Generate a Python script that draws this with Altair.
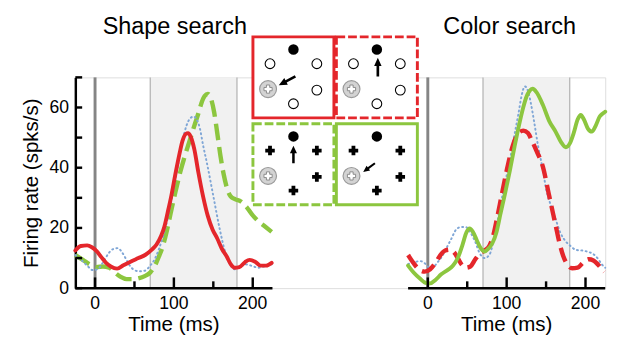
import math
import altair as alt
import pandas as pd

FONT = "Liberation Sans"
RED = "#e4262b"
GREEN = "#8cc63f"
BLUE = "#7fa6d6"
SHADE = "#f1f1f1"

# ---------------- axes / layout values ----------------
TIME_DOMAIN = [-25, 225]
RATE_DOMAIN = [0, 70]
shade_window = [70, 180]
onset = [0]
x_major = [0, 100, 200]
x_minor = [50, 150]
y_tick_values = [0, 10, 20, 30, 40, 50, 60, 70]
y_label_values = [0, 20, 40, 60]
panel_titles = ["Shape search", "Color search"]
x_title = "Time (ms)"
y_title = "Firing rate (spks/s)"

# ---------------- Shape search ----------------
shape_red_t = [-25, -18, -10, -4, 2, 8, 14, 20, 28, 36, 45, 55, 64, 72, 78, 84, 88, 92, 97, 102,
               107, 111, 115, 118, 121, 126, 131, 137, 143, 149, 155, 161, 167, 172, 177, 183, 190, 196, 203, 210,
               217, 224]
shape_red_v = [12.5, 14, 14.2, 13.6, 12.3, 10.3, 8.4, 7.2, 6.5, 7.6, 8.8, 10, 11.1, 12.8, 14.5, 17.5, 20.5, 25, 31, 38,
               44.5, 49, 51.2, 51.5, 50.5, 46, 38.5, 30.5, 24, 19.5, 16.5, 13, 10.5, 8, 6.8, 7, 8.6, 9.4, 8.8, 7.5,
               7.5, 8.4]

shape_green_t = [-25, -15, -6, 2, 10, 18, 25, 32, 40, 48, 56, 63, 70, 76, 81, 86, 91, 96, 102, 108,
                 114, 120, 126, 131, 135, 139, 143, 147, 151, 155, 159, 163, 167, 172, 178, 185, 192, 199, 206, 214,
                 224]
shape_green_v = [11, 9.3, 7.8, 7, 7.2, 6.8, 5.2, 3.8, 3, 3, 3.3, 4, 5.2, 7.5, 10.5, 14, 19, 25, 32, 38.5,
                 44, 49, 54, 58, 61.5, 63.8, 64.5, 63, 58.5, 51.5, 44, 38, 33.5, 30.5, 29.5, 28.8, 27, 24.5, 22.5, 20.8,
                 18.7]

shape_blue_t = [-25, -18, -10, -3, 3, 10, 17, 23, 29, 34, 39, 44, 50, 56, 63, 70, 76, 81, 86, 92,
                99, 105, 111, 116, 121, 125, 129, 133, 137, 142, 150, 158, 165, 171, 177, 184, 191, 199, 207, 216,
                224]
shape_blue_v = [11, 9.5, 7.5, 6, 6.3, 8.5, 11.5, 13, 13.3, 12, 9.8, 7.5, 6, 5.6, 5.8, 7.5, 9.8, 13, 17, 23,
                32, 40.5, 49, 54, 56.5, 57, 56, 53, 47.5, 41.4, 30.6, 19.8, 12, 8, 6.3, 7, 7.9, 7.4, 6.8, 7.3,
                7.9]

# ---------------- Color search ----------------
color_green_t = [-25, -18, -10, -3, 3, 10, 17, 25, 32, 38, 44, 49, 53, 57, 62, 67, 72, 77, 82, 87,
                 92, 98, 104, 110, 116, 121, 125, 129, 133, 138, 146, 154, 162, 169, 175, 180, 185, 190, 194, 198,
                 203, 208, 213, 218, 222, 225]
color_green_v = [7.5, 5.2, 3.2, 1.8, 1.6, 2.8, 4.6, 6, 7.5, 10, 14.4, 18.5, 19.8, 18.8, 16, 13.3, 12.2, 13.2, 15, 18.5,
                 24.5, 31.5, 39, 47, 54.5, 60, 63.5, 65.5, 66.2, 65, 60.8, 55.5, 52, 48.5, 46.8, 48, 51.5, 56, 57.5, 56,
                 53, 52, 54, 57, 58, 58.6]

color_red_t = [-25, -18, -10, -4, 3, 10, 16, 22, 28, 33, 38, 43, 48, 54, 60, 66, 72, 78, 83, 88,
               93, 100, 108, 115, 121, 127, 132, 138, 146, 154, 162, 167, 172, 177, 183, 190, 197, 204, 210, 216,
               220, 224]
color_red_v = [11, 8.3, 6, 5.5, 6.3, 8.5, 11, 12.5, 12.8, 12, 10, 7.8, 6.8, 7.2, 9.5, 11.5, 12.5, 14, 17.5, 23.5,
               30, 39, 47.5, 51.5, 52.3, 51.5, 49, 45.5, 40.3, 30.6, 21, 15, 10.5, 7.8, 6.6, 6.8, 8.5, 9.6, 9.2, 7.8,
               6.6, 5.5]

color_blue_t = [-25, -18, -10, -4, 1, 6, 12, 18, 24, 30, 36, 42, 48, 54, 60, 66, 72, 78, 84, 92,
                98, 104, 110, 115, 119, 123, 127, 131, 135, 140, 146, 150, 156, 162, 168, 175, 181, 188, 196, 204,
                210, 216, 221, 225]
color_blue_v = [8, 8.5, 9, 8.3, 7, 6.8, 8.5, 10.5, 13.5, 16.5, 19.5, 20.3, 20.3, 18.5, 15.5, 11.5, 10, 11, 16.5, 27.3,
                35, 42.4, 51, 58, 64, 67, 65.5, 61, 55, 47, 39.2, 33, 27.5, 23, 18.5, 15.5, 14, 12.7, 12.5, 12,
                11.3, 9.7, 7.8, 6.8]

# ---------------- icon panel (search displays), in plot pixels ----------------
icon_names = ["shape_in", "shape_out", "color_out", "color_in"]
icon_cx = [223.5, 309.0, 223.5, 309.0]
icon_cy = [0.0, 0.0, 89.0, 89.0]
icon_color = [RED, RED, GREEN, GREEN]
icon_dashed = [False, True, True, False]
icon_distractor = ["circle", "circle", "cross", "cross"]
icon_half = 41.5
arrow_tail_dx = [2, 1, 0, -2]
arrow_tail_dy = [-1, -1, -1, -1]
arrow_head_dx = [-15, 1, 0, -14]
arrow_head_dy = [8, -20, -19, 8]
# six item slots (top, upper-left, upper-right, lower-right, bottom, lower-left)
slot_dx = [0, -24, 24, 24, 0, -26]
slot_dy = [-28.5, -14, -14, 13, 27, 12]
slot_role = ["dot", "dist", "dist", "dist", "dist", "rf"]

# ---------------- geometry ----------------
PANEL_W = 202            # width of one panel in px
GAP = 139                # gap between the two panels
W = 2 * PANEL_W + GAP    # whole plot area
H = 216
K = PANEL_W / (TIME_DOMAIN[1] - TIME_DOMAIN[0])   # px per ms


def panel_scale(offset_px):
    lo = TIME_DOMAIN[0] - offset_px / K
    return alt.Scale(domain=[lo, lo + W / K], range=[0, W], nice=False, zero=False)


ys = alt.Scale(domain=RATE_DOMAIN, nice=False, zero=True)
yaxis = alt.Axis(title=y_title, values=y_label_values, format="d", labelPadding=7, titlePadding=8,
                 labelFont=FONT, titleFont=FONT, labelColor="black", titleColor="black",
                 titleFontWeight="normal", grid=False, ticks=False, tickSize=0,
                 domainColor="black", domainWidth=2.5, labelFontSize=18, titleFontSize=21,
                 labelFlush=False)


def panel(curves, title, title_dx, offset_px, show_y):
    xs = panel_scale(offset_px)
    ya = yaxis if show_y else None

    def X(field):
        return alt.X(field, scale=xs, axis=None)

    def Y(field):
        return alt.Y(field, scale=ys, axis=ya)

    shade_df = pd.DataFrame({"start": [shade_window[0]], "end": [shade_window[1]],
                             "lo": [RATE_DOMAIN[0]], "hi": [RATE_DOMAIN[1]]})
    shade = alt.Chart(shade_df).mark_rect(color=SHADE).encode(
        x=X("start:Q"), x2="end:Q", y=Y("lo:Q"), y2="hi:Q")

    edge_df = pd.DataFrame({"t": shade_window, "lo": [0, 0], "hi": [RATE_DOMAIN[1]] * 2})
    edges = alt.Chart(edge_df).mark_rule(color="#b0b0b0", strokeWidth=1.2).encode(
        x=X("t:Q"), y=Y("lo:Q"), y2="hi:Q")

    onset_df = pd.DataFrame({"t": onset, "lo": [0], "hi": [RATE_DOMAIN[1]]})
    onset_line = alt.Chart(onset_df).mark_rule(color="#858585", strokeWidth=3).encode(
        x=X("t:Q"), y=Y("lo:Q"), y2="hi:Q")

    dom_df = pd.DataFrame({"a": [TIME_DOMAIN[0]], "b": [TIME_DOMAIN[1]]})
    x_domain = alt.Chart(dom_df).mark_rule(color="black", strokeWidth=2.5).encode(
        x=X("a:Q"), x2="b:Q", y=alt.value(H))

    major = alt.Chart(pd.DataFrame({"t": x_major})).mark_rule(color="black", strokeWidth=2.5).encode(
        x=X("t:Q"), y=alt.value(H), y2=alt.value(H - 11))
    minor = alt.Chart(pd.DataFrame({"t": x_minor})).mark_rule(color="black", strokeWidth=2.5).encode(
        x=X("t:Q"), y=alt.value(H), y2=alt.value(H - 7))
    labels = alt.Chart(pd.DataFrame({"t": x_major})).mark_text(
        font=FONT, fontSize=18, color="black", baseline="middle", align="center").encode(
        x=X("t:Q"), y=alt.value(H + 16), text=alt.Text("t:Q", format="d"))

    mid_t = (TIME_DOMAIN[0] + TIME_DOMAIN[1]) / 2
    xt = alt.Chart(pd.DataFrame({"t": [mid_t], "label": [x_title]})).mark_text(
        font=FONT, fontSize=21, color="black", baseline="middle", align="center").encode(
        x=X("t:Q"), y=alt.value(H + 38), text="label:N")
    tt = alt.Chart(pd.DataFrame({"t": [mid_t], "label": [title]})).mark_text(
        font=FONT, fontSize=24, color="black", baseline="middle", align="center", dx=title_dx).encode(
        x=X("t:Q"), y=alt.value(-51), text="label:N")

    layers = [shade, edges, onset_line]
    for t, v, color, dash, width, cap in curves:
        df = pd.DataFrame({"t": t, "v": v})
        kw = dict(color=color, strokeWidth=width, interpolate="monotone", strokeCap=cap)
        if dash:
            kw["strokeDash"] = dash
        layers.append(alt.Chart(df).mark_line(**kw).encode(x=X("t:Q"), y=Y("v:Q")))
    layers += [x_domain, major, minor, labels, xt, tt]
    if show_y:
        yt = alt.Chart(pd.DataFrame({"v": y_tick_values})).mark_rule(color="black", strokeWidth=2.5).encode(
            y=Y("v:Q"), x=alt.value(0), x2=alt.value(7))
        layers.append(yt)
    return alt.layer(*layers)


left = panel([
    (shape_green_t, shape_green_v, GREEN, [17, 7], 4.5, "butt"),
    (shape_blue_t, shape_blue_v, BLUE, [1, 3.5], 2, "round"),
    (shape_red_t, shape_red_v, RED, None, 4, "round"),
], panel_titles[0], 1, 0, True)

right = panel([
    (color_blue_t, color_blue_v, BLUE, [1, 3.5], 2, "round"),
    (color_red_t, color_red_v, RED, [15, 7], 4.5, "butt"),
    (color_green_t, color_green_v, GREEN, None, 4, "round"),
], panel_titles[1], 3, PANEL_W + GAP, False)

# ---------------- icons ----------------
mx = alt.Scale(domain=[0, W], range=[0, W], nice=False, zero=False)
my = alt.Scale(domain=[0, H], range=[0, H], nice=False, zero=False)

sq = pd.DataFrame({
    "name": icon_names, "color": icon_color, "dashed": icon_dashed,
    "x1": [c - icon_half for c in icon_cx], "x2": [c + icon_half for c in icon_cx],
    "y1": [c - icon_half for c in icon_cy], "y2": [c + icon_half for c in icon_cy],
})
sq_enc = dict(x=alt.X("x1:Q", scale=mx, axis=None), x2="x2:Q",
              y=alt.Y("y1:Q", scale=my, axis=None), y2="y2:Q",
              stroke=alt.Stroke("color:N", scale=None))
sq_solid = alt.Chart(sq).transform_filter("!datum.dashed").mark_rect(
    fill="white", strokeWidth=3).encode(**sq_enc)
sq_dash = alt.Chart(sq).transform_filter("datum.dashed").mark_rect(
    fill="white", strokeWidth=3, strokeDash=[9, 3]).encode(**sq_enc)

items = []
for i in range(len(icon_names)):
    for s in range(len(slot_dx)):
        role = slot_role[s]
        if role == "dist":
            role = icon_distractor[i]
        items.append({"x": icon_cx[i] + slot_dx[s], "y": icon_cy[i] + slot_dy[s], "role": role})
items = pd.DataFrame(items)
pt_enc = dict(x=alt.X("x:Q", scale=mx, axis=None), y=alt.Y("y:Q", scale=my, axis=None))

open_circ = alt.Chart(items).transform_filter("datum.role == 'circle'").mark_point(
    shape="circle", filled=False, color="black", strokeWidth=1.1, size=100, opacity=1).encode(**pt_enc)
plus = alt.Chart(items).transform_filter("datum.role == 'cross'").mark_point(
    shape="cross", filled=True, color="black", size=95, opacity=1).encode(**pt_enc)
dot = alt.Chart(items).transform_filter("datum.role == 'dot'").mark_point(
    shape="circle", filled=True, color="black", size=115, opacity=1).encode(**pt_enc)
rf = alt.Chart(items).transform_filter("datum.role == 'rf'").mark_point(
    shape="circle", filled=True, fill="#d3d3d3", stroke="#9a9a9a", strokeWidth=1.2,
    size=300, opacity=1).encode(**pt_enc)
rf_plus = alt.Chart(items).transform_filter("datum.role == 'rf'").mark_point(
    shape="cross", filled=True, fill="white", stroke="#8a8a8a", strokeWidth=1,
    size=70, opacity=1).encode(**pt_enc)

arrows = []
for i in range(len(icon_names)):
    tx, ty = icon_cx[i] + arrow_tail_dx[i], icon_cy[i] + arrow_tail_dy[i]
    hx, hy = icon_cx[i] + arrow_head_dx[i], icon_cy[i] + arrow_head_dy[i]
    dx, dy = hx - tx, hy - ty
    length = math.hypot(dx, dy)
    ang = math.degrees(math.atan2(dx, -dy)) % 360
    arrows.append({"x": (tx + hx) / 2, "y": (ty + hy) / 2, "ang": ang, "sz": length ** 2})
arrows = pd.DataFrame(arrows)
arrow_mark = alt.Chart(arrows).mark_point(shape="arrow", filled=True, color="black", opacity=1).encode(
    x=alt.X("x:Q", scale=mx, axis=None), y=alt.Y("y:Q", scale=my, axis=None),
    angle=alt.Angle("ang:Q", scale=None), size=alt.Size("sz:Q", scale=None))

icons = alt.layer(sq_solid, sq_dash, open_circ, plus, dot, rf, rf_plus, arrow_mark)

chart = alt.layer(left, right, icons).resolve_scale(
    x="independent", y="independent"
).properties(
    width=W, height=H,
    padding={"left": 12, "top": 4, "right": 0, "bottom": 0}
).configure_view(strokeWidth=0).configure(background="white")

chart.save("out.html", embed_options={"renderer": "svg", "actions": False})
